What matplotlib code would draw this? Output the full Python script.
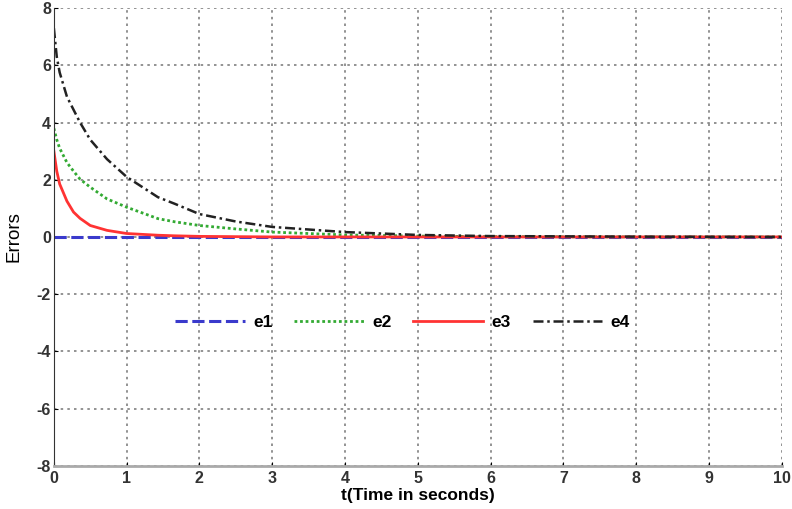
import numpy as np
import matplotlib
matplotlib.use('Agg')
import matplotlib.pyplot as plt

# ── data ──────────────────────────────────────────────────────────────────────
t  = [0, 0.04, 0.08, 0.18, 0.27, 0.36, 0.5, 0.73, 1.0, 1.43, 1.66,
      2.0, 2.5, 3.0, 4.0, 5.0, 6.0, 8.0, 10.0]
e1 = [0] * len(t)
e2 = [3.8, 3.4, 3.1, 2.6, 2.3, 2.02, 1.74, 1.33, 1.04, 0.64, 0.53,
      0.40, 0.28, 0.17, 0.07, 0.03, 0.01, 0.0, 0.0]
e3 = [3.0, 2.3, 1.85, 1.25, 0.87, 0.65, 0.40, 0.23, 0.12, 0.06, 0.04,
      0.02, 0.01, 0.0, 0.0, 0.0, 0.0, 0.0, 0.0]
e4 = [7.3, 6.3, 5.75, 4.9, 4.45, 4.0, 3.4, 2.72, 2.1, 1.39, 1.16,
      0.80, 0.54, 0.35, 0.17, 0.07, 0.03, 0.01, 0.0]

xticks = list(range(0, 11))
yticks = list(range(-8, 9, 2))

plt.rcParams['font.family'] = ['Liberation Sans', 'DejaVu Sans']
plt.rcParams['axes.unicode_minus'] = False

fig = plt.figure(figsize=(7.92, 5.09), dpi=100)
ax = fig.add_axes([0.068, 0.085, 0.919, 0.899])

ax.plot(t, e1, color='#3a3acc', ls=(0, (4, 1.5)), lw=2.2, label='e1')
ax.plot(t, e2, color='#33aa33', ls=(0, (1, 1)), lw=2.0, label='e2')
ax.plot(t, e3, color='#ff3333', ls='-', lw=2.0, label='e3')
ax.plot(t, e4, color='#222222', ls=(0, (4, 1.5, 1, 1.5)), lw=1.8, label='e4')

ax.set_xlim(0, 10)
ax.set_ylim(-8, 8)
ax.set_xticks(xticks)
ax.set_yticks(yticks)
ax.grid(True, color='#808080', ls=(0, (1.5, 2.5)), lw=1.2)

ax.spines['top'].set_visible(False)
ax.spines['right'].set_visible(False)
ax.spines['left'].set_color('#333333')
ax.spines['bottom'].set_color('#aaaaaa')
ax.spines['bottom'].set_linewidth(2)
ax.tick_params(direction='in', length=3, labelsize=11.5, pad=2)
ax.tick_params(axis='x', pad=4)
for lbl in ax.get_xticklabels() + ax.get_yticklabels():
    lbl.set_fontweight('bold')
    lbl.set_color('#333333')

ax.set_xlabel('t(Time in seconds)', fontsize=12.5, fontweight='bold', labelpad=1)
ax.set_ylabel('Errors', fontsize=13.5, labelpad=10)

leg = ax.legend(loc='center', bbox_to_anchor=(0.479, 0.314), ncol=4,
                frameon=False, handlelength=4.0, handletextpad=0.5,
                columnspacing=1.25,
                prop={'weight': 'bold', 'size': 12.5})

fig.savefig('out.png', dpi=100)
